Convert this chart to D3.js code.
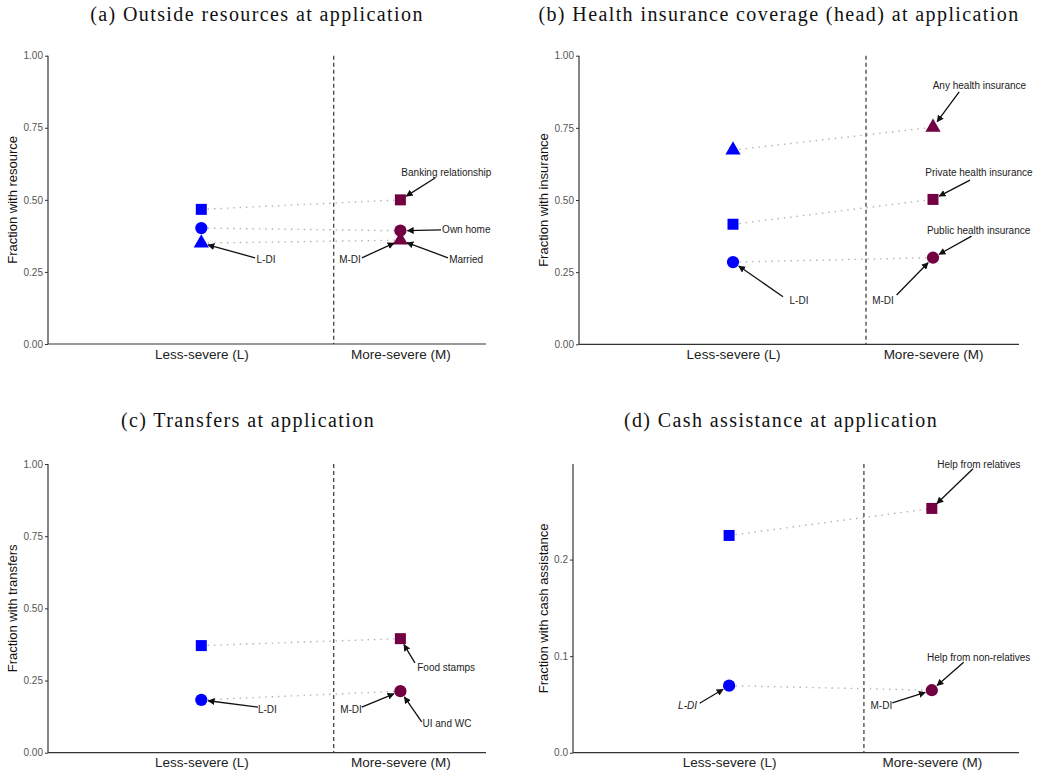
<!DOCTYPE html>
<html>
<head>
<meta charset="utf-8">
<script src="https://cdn.jsdelivr.net/npm/d3@7"></script>
<style>
  body { margin: 0; background: #fff; }
  svg { display: block; }
</style>
</head>
<body>
<div id="chart"></div>
<script>
// categories on the x axis (x = 1 and x = 2 in data units)
const categories = ["Less-severe (L)", "More-severe (M)"];
const catPos = [1, 2];
const cutoff = 1.665; // dashed divider between the two groups

// series values: [L, M]
const resourceNames = ["Banking relationship", "Own home", "Married"];
const resourceShapes = ["square", "circle", "triangle"];
const resourceVals = [[0.467, 0.500], [0.402, 0.393], [0.350, 0.360]];

const insuranceNames = ["Any health insurance", "Private health insurance", "Public health insurance"];
const insuranceShapes = ["triangle", "square", "circle"];
const insuranceVals = [[0.673, 0.752], [0.416, 0.502], [0.285, 0.300]];

const transferNames = ["Food stamps", "UI and WC"];
const transferShapes = ["square", "circle"];
const transferVals = [[0.371, 0.395], [0.183, 0.213]];

const cashNames = ["Help from relatives", "Help from non-relatives"];
const cashShapes = ["square", "circle"];
const cashVals = [[0.225, 0.253], [0.0694, 0.0647]];

const ticksFrac = [0, 0.25, 0.5, 0.75, 1];
const ticksCash = [0, 0.1, 0.2];

// annotations: text centre (tx,ty), arrow start (sx,sy), target (series, side) - all in data units
const annotA = [
  { text: "Banking relationship", tx: 2.231, ty: 0.594, sx: 2.174, sy: 0.576, s: 0, k: 1 },
  { text: "Own home", tx: 2.331, ty: 0.396, sx: 2.204, sy: 0.396, s: 1, k: 1 },
  { text: "Married", tx: 2.330, ty: 0.293, sx: 2.239, sy: 0.299, s: 2, k: 1 },
  { text: "L-DI", tx: 1.325, ty: 0.293, sx: 1.270, sy: 0.299, s: 2, k: 0 },
  { text: "M-DI", tx: 1.747, ty: 0.293, sx: 1.807, sy: 0.299, s: 2, k: 1 }
];
const annotB = [
  { text: "Any health insurance", tx: 2.232, ty: 0.898, sx: 2.131, sy: 0.875, s: 0, k: 1 },
  { text: "Private health insurance", tx: 2.230, ty: 0.595, sx: 2.185, sy: 0.569, s: 1, k: 1 },
  { text: "Public health insurance", tx: 2.228, ty: 0.394, sx: 2.193, sy: 0.375, s: 2, k: 1 },
  { text: "L-DI", tx: 1.330, ty: 0.151, sx: 1.250, sy: 0.165, s: 2, k: 0 },
  { text: "M-DI", tx: 1.750, ty: 0.151, sx: 1.818, sy: 0.171, s: 2, k: 1 }
];
const annotC = [
  { text: "Food stamps", tx: 2.230, ty: 0.296, sx: 2.073, sy: 0.311, s: 0, k: 1 },
  { text: "UI and WC", tx: 2.234, ty: 0.100, sx: 2.107, sy: 0.107, s: 1, k: 1 },
  { text: "L-DI", tx: 1.332, ty: 0.150, sx: 1.285, sy: 0.158, s: 1, k: 0 },
  { text: "M-DI", tx: 1.752, ty: 0.150, sx: 1.806, sy: 0.158, s: 1, k: 1 }
];
const annotD = [
  { text: "Help from relatives", tx: 2.232, ty: 0.299, sx: 2.203, sy: 0.294, s: 0, k: 1 },
  { text: "Help from non-relatives", tx: 2.231, ty: 0.0989, sx: 2.157, sy: 0.0937, s: 1, k: 1 },
  { text: "L-DI", tx: 0.795, ty: 0.0494, sx: 0.855, sy: 0.0512, s: 1, k: 0, italic: true },
  { text: "M-DI", tx: 1.751, ty: 0.0494, sx: 1.805, sy: 0.0515, s: 1, k: 1 }
];

const panels = [
  { title: "(a) Outside resources at application", ylab: "Fraction with resource",
    names: resourceNames, shapes: resourceShapes, vals: resourceVals, annot: annotA,
    yDomain: [0, 1], ticks: ticksFrac, fmt: ".2f",
    box: { left: 48, right: 486, top: 55.7, bottom: 344 }, titleX: 257, titleY: 14, ylabX: 12 },
  { title: "(b) Health insurance coverage (head) at application", ylab: "Fraction with insurance",
    names: insuranceNames, shapes: insuranceShapes, vals: insuranceVals, annot: annotB,
    yDomain: [0, 1], ticks: ticksFrac, fmt: ".2f",
    box: { left: 579, right: 1019, top: 55.7, bottom: 344.3 }, titleX: 779, titleY: 14, ylabX: 543 },
  { title: "(c) Transfers at application", ylab: "Fraction with transfers",
    names: transferNames, shapes: transferShapes, vals: transferVals, annot: annotC,
    yDomain: [0, 1], ticks: ticksFrac, fmt: ".2f",
    box: { left: 48, right: 486, top: 464, bottom: 752.7 }, titleX: 248, titleY: 420, ylabX: 12 },
  { title: "(d) Cash assistance at application", ylab: "Fraction with cash assistance",
    names: cashNames, shapes: cashShapes, vals: cashVals, annot: annotD,
    yDomain: [0, 0.299], ticks: ticksCash, fmt: ".1f",
    box: { left: 573, right: 1019, top: 464, bottom: 752.7 }, titleX: 781, titleY: 420, ylabX: 543 }
];

const W = 1039, H = 774;
const colL = "#0000ff", colM = "#720042";
const symbolType = { square: d3.symbolSquare, circle: d3.symbolCircle, triangle: d3.symbolTriangle };
const symbolSize = { square: 121, circle: 118, triangle: 100 };

const svg = d3.select("#chart").append("svg")
  .attr("width", W).attr("height", H)
  .style("font-family", "'Liberation Sans', Arial, sans-serif");

svg.append("defs").append("marker")
  .attr("id", "arrow")
  .attr("viewBox", "0 0 10 10")
  .attr("refX", 9).attr("refY", 5)
  .attr("markerWidth", 7).attr("markerHeight", 7)
  .attr("markerUnits", "userSpaceOnUse")
  .attr("orient", "auto")
  .append("path")
    .attr("d", "M0,0 L10,5 L0,10 z")
    .attr("fill", "#111");

panels.forEach(p => {
  const b = p.box;
  const x = d3.scaleLinear().domain([0.23, 2.43]).range([b.left, b.right]);
  const y = d3.scaleLinear().domain(p.yDomain).range([b.bottom, b.top]);
  const g = svg.append("g");

  // title
  svg.append("text")
    .attr("x", p.titleX).attr("y", p.titleY)
    .attr("text-anchor", "middle").attr("dominant-baseline", "central")
    .style("font-family", "'Liberation Serif', 'DejaVu Serif', serif")
    .style("font-size", "20px").style("letter-spacing", "1.4px")
    .attr("fill", "#111")
    .text(p.title);

  // y axis
  const ya = g.append("g").attr("transform", `translate(${b.left},0)`)
    .call(d3.axisLeft(y).tickValues(p.ticks).tickFormat(d3.format(p.fmt)).tickSize(3).tickSizeOuter(0).tickPadding(2));
  ya.select(".domain").remove();
  ya.selectAll(".tick line").attr("stroke", "#333");
  ya.selectAll(".tick text").attr("fill", "#555").style("font-size", "10px").style("font-family", "'Liberation Sans', Arial, sans-serif");

  // x axis
  const xa = g.append("g").attr("transform", `translate(0,${b.bottom})`)
    .call(d3.axisBottom(x).tickValues(catPos).tickFormat((d, i) => categories[i]).tickSize(0).tickPadding(5));
  xa.select(".domain").remove();
  xa.selectAll(".tick text").attr("fill", "#222").style("font-size", "13.5px").style("font-family", "'Liberation Sans', Arial, sans-serif");

  // axis lines
  g.append("line").attr("x1", b.left).attr("x2", b.left).attr("y1", b.top).attr("y2", b.bottom)
    .attr("stroke", "#333").attr("stroke-width", 1.2);
  g.append("line").attr("x1", b.left).attr("x2", b.right).attr("y1", b.bottom).attr("y2", b.bottom)
    .attr("stroke", "#333").attr("stroke-width", 1.2);

  // y label
  g.append("text")
    .attr("transform", `translate(${p.ylabX},${(b.top + b.bottom) / 2}) rotate(-90)`)
    .attr("text-anchor", "middle").attr("dominant-baseline", "central")
    .style("font-size", "13px").attr("fill", "#111")
    .text(p.ylab);

  // dotted connectors
  g.selectAll(".conn").data(p.vals).enter().append("line")
    .attr("x1", x(catPos[0])).attr("x2", x(catPos[1]))
    .attr("y1", d => y(d[0])).attr("y2", d => y(d[1]))
    .attr("stroke", "#b0b0b0").attr("stroke-width", 1.4)
    .attr("stroke-dasharray", "1.4,5");

  // dashed divider
  g.append("line")
    .attr("x1", x(cutoff)).attr("x2", x(cutoff))
    .attr("y1", b.top).attr("y2", b.bottom)
    .attr("stroke", "#444").attr("stroke-width", 1.3)
    .attr("stroke-dasharray", "4,3");

  // points
  p.vals.forEach((v, i) => {
    const sh = p.shapes[i];
    v.forEach((val, k) => {
      g.append("path")
        .attr("d", d3.symbol().type(symbolType[sh]).size(symbolSize[sh])())
        .attr("transform", `translate(${x(catPos[k])},${y(val)})`)
        .attr("fill", k === 0 ? colL : colM);
    });
  });

  // annotations
  p.annot.forEach(a => {
    const px = x(catPos[a.k]), py = y(p.vals[a.s][a.k]);
    const sx = x(a.sx), sy = y(a.sy);
    const dx = sx - px, dy = sy - py, len = Math.hypot(dx, dy);
    const gap = 7;
    g.append("line")
      .attr("x1", sx).attr("y1", sy)
      .attr("x2", px + dx / len * gap).attr("y2", py + dy / len * gap)
      .attr("stroke", "#111").attr("stroke-width", 1.3)
      .attr("marker-end", "url(#arrow)");
    g.append("text")
      .attr("x", x(a.tx)).attr("y", y(a.ty))
      .attr("text-anchor", "middle").attr("dominant-baseline", "central")
      .style("font-size", "10px").style("font-style", a.italic ? "italic" : "normal")
      .attr("fill", "#222")
      .text(a.text);
  });
});
</script>
</body>
</html>
